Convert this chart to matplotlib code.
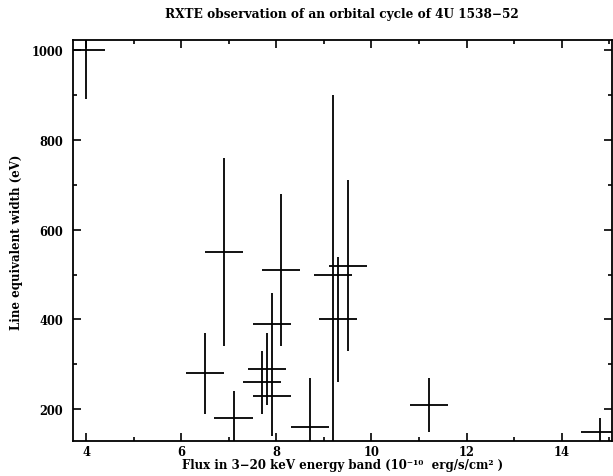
import matplotlib
matplotlib.use("Agg")
import matplotlib.pyplot as plt
from matplotlib.ticker import MultipleLocator

# flux (1e-10 erg/s/cm2) and line equivalent width (eV)
flux = [4.0, 6.5, 6.9, 7.1, 7.7, 7.8, 7.9, 7.9, 8.1, 8.7, 9.2, 9.3, 9.5, 11.2, 14.8]
flux_err = [0.4] * len(flux)
eqw = [1000, 280, 550, 180, 260, 290, 390, 230, 510, 160, 500, 400, 520, 210, 150]
eqw_err = [110, 90, 210, 60, 70, 80, 70, 90, 170, 110, 400, 140, 190, 60, 30]

plt.rcParams['font.family'] = ['DejaVu Serif']
plt.rcParams['font.weight'] = 'bold'

fig = plt.figure(figsize=(6.13, 4.77), dpi=100)
ax = fig.add_axes([0.1186, 0.0727, 0.8794, 0.8407])

ax.errorbar(flux, eqw, xerr=flux_err, yerr=eqw_err, fmt='none',
            ecolor='black', elinewidth=1.3, capsize=0)

ax.set_xlim(3.72, 15.05)
ax.set_ylim(129, 1021)
ax.xaxis.set_major_locator(MultipleLocator(2))
ax.xaxis.set_minor_locator(MultipleLocator(1))
ax.yaxis.set_major_locator(MultipleLocator(200))
ax.yaxis.set_minor_locator(MultipleLocator(100))
ax.tick_params(which='both', direction='in', top=True, right=True,
               width=1.2, labelsize=8.3)
ax.tick_params(which='major', length=6)
ax.tick_params(axis='x', which='major', pad=3)
ax.tick_params(axis='y', which='major', pad=7)
ax.tick_params(which='minor', length=3)
for s in ax.spines.values():
    s.set_linewidth(1.3)

ax.set_title('RXTE observation of an orbital cycle of 4U 1538\u221252',
             fontsize=8.7, fontweight='bold', pad=17)
ax.set_xlabel('Flux in 3\u221220 keV energy band (10\u207b\u00b9\u2070  erg/s/cm\u00b2 )',
              fontsize=8.5, fontweight='bold', labelpad=0)
ax.set_ylabel('Line equivalent width (eV)', fontsize=8.5, fontweight='bold',
              labelpad=6)

fig.savefig('out.png', dpi=100)
